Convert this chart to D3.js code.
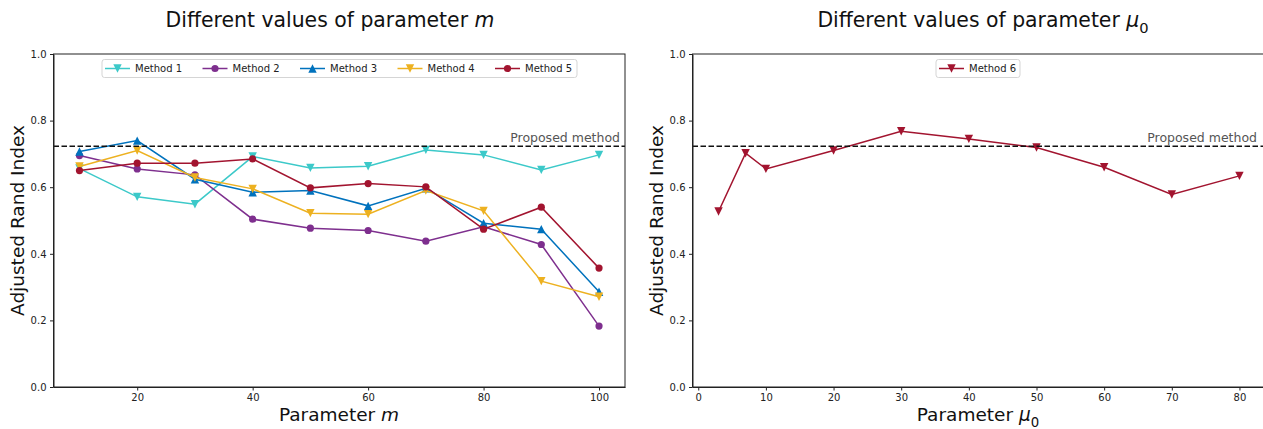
<!DOCTYPE html>
<html lang="en">
<head>
    <meta charset="UTF-8">
    <title>Parameter sensitivity</title>
    <script src="https://d3js.org/d3.v7.min.js"></script>
    <style>
        body {
            margin: 0;
            background: #fff;
            font-family: "DejaVu Sans", sans-serif;
        }
        .tick text {
            font-size: 10px;
            font-family: "DejaVu Sans", sans-serif;
            fill: #222;
        }
        .tick line, .domain {
            stroke: #222;
        }
    </style>
</head>
<body>
    <div id="chart"></div>
    <script>
        // values
        const mValues = [10, 20, 30, 40, 50, 60, 70, 80, 90, 100];
        const method1 = [0.656, 0.571, 0.549, 0.692, 0.658, 0.663, 0.712, 0.697, 0.652, 0.697];
        const method2 = [0.695, 0.655, 0.637, 0.504, 0.477, 0.470, 0.438, 0.481, 0.428, 0.183];
        const method3 = [0.707, 0.740, 0.624, 0.585, 0.590, 0.544, 0.597, 0.492, 0.474, 0.286];
        const method4 = [0.662, 0.710, 0.629, 0.595, 0.522, 0.519, 0.590, 0.529, 0.318, 0.271];
        const method5 = [0.650, 0.672, 0.672, 0.685, 0.598, 0.611, 0.601, 0.474, 0.540, 0.357];

        const mu0Values = [3, 7, 10, 20, 30, 40, 50, 60, 70, 80];
        const method6 = [0.527, 0.702, 0.655, 0.710, 0.768, 0.745, 0.719, 0.660, 0.578, 0.634];

        const proposed = 0.723;
        const yTicks = [0, 0.2, 0.4, 0.6, 0.8, 1.0];
        const mTicks = [20, 40, 60, 80, 100];
        const muTicks = [0, 10, 20, 30, 40, 50, 60, 70, 80];

        const leftSeries = [
            {name: "Method 1", values: method1, color: "#3cc9c9", marker: "down"},
            {name: "Method 2", values: method2, color: "#7e2f8e", marker: "circle"},
            {name: "Method 3", values: method3, color: "#0072bd", marker: "up"},
            {name: "Method 4", values: method4, color: "#edb120", marker: "down"},
            {name: "Method 5", values: method5, color: "#a2142f", marker: "circle"}
        ];
        const rightSeries = [
            {name: "Method 6", values: method6, color: "#a2142f", marker: "down"}
        ];

        const W = 1263, H = 429;
        const plotTop = 54, plotBottom = 387;

        const svg = d3.select("#chart").append("svg")
            .attr("width", W)
            .attr("height", H);

        const y = d3.scaleLinear().domain([0, 1]).range([plotBottom, plotTop]);

        function drawMarker(g, type, color) {
            if (type === "circle") {
                g.append("circle").attr("r", 3.6).attr("fill", color);
            } else {
                const s = 4.2;
                const pts = type === "up"
                    ? [[0, -s], [-s, s], [s, s]]
                    : [[0, s], [-s, -s], [s, -s]];
                g.append("path")
                    .attr("d", "M" + pts.map(p => p.join(",")).join("L") + "Z")
                    .attr("fill", color);
            }
        }

        function panel(opts) {
            const x = d3.scaleLinear().domain(opts.domain).range(opts.range);
            const g = svg.append("g");

            // lines and markers
            const line = d3.line().x((d, i) => x(opts.xs[i])).y(d => y(d));
            opts.series.forEach(s => {
                g.append("path")
                    .datum(s.values)
                    .attr("fill", "none")
                    .attr("stroke", s.color)
                    .attr("stroke-width", 1.5)
                    .attr("d", line);
                s.values.forEach((v, i) => {
                    const m = g.append("g").attr("transform", `translate(${x(opts.xs[i])},${y(v)})`);
                    drawMarker(m, s.marker, s.color);
                });
            });

            // proposed method reference
            g.append("line")
                .attr("x1", opts.range[0]).attr("x2", opts.range[1])
                .attr("y1", y(proposed)).attr("y2", y(proposed))
                .attr("stroke", "#111")
                .attr("stroke-width", 1.5)
                .attr("stroke-dasharray", "5.5,2.5");
            g.append("text")
                .attr("x", opts.labelX)
                .attr("y", y(proposed) - 4)
                .attr("text-anchor", "end")
                .attr("fill", "#555")
                .style("font-size", "12.5px")
                .text("Proposed method");

            // frame
            g.append("rect")
                .attr("x", opts.range[0]).attr("y", plotTop)
                .attr("width", opts.range[1] - opts.range[0])
                .attr("height", plotBottom - plotTop)
                .attr("fill", "none")
                .attr("stroke", "#222")
                .attr("stroke-width", 1);

            g.append("g")
                .attr("transform", `translate(${opts.range[0]},0)`)
                .call(d3.axisLeft(y).tickValues(yTicks).tickFormat(d3.format(".1f"))
                    .tickSize(3.5).tickPadding(3.5).tickSizeOuter(0));
            g.append("g")
                .attr("transform", `translate(0,${plotBottom})`)
                .call(d3.axisBottom(x).tickValues(opts.ticks).tickFormat(d3.format("d"))
                    .tickSize(3.5).tickPadding(3.5).tickSizeOuter(0));

            // title
            const t = svg.append("text")
                .attr("x", opts.titleX)
                .attr("y", 26.5)
                .attr("text-anchor", "middle")
                .attr("fill", "#111")
                .style("font-size", "20.4px")
                .text("Different values of parameter ");
            opts.sym(t, 20.4);

            // x label
            const xl = svg.append("text")
                .attr("x", opts.labelCx)
                .attr("y", 421)
                .attr("text-anchor", "middle")
                .attr("fill", "#111")
                .style("font-size", "18.5px")
                .text("Parameter ");
            opts.sym(xl, 18.5);

            // y label
            svg.append("text")
                .attr("transform", `translate(${opts.range[0] - 30},${(plotTop + plotBottom) / 2}) rotate(-90)`)
                .attr("text-anchor", "middle")
                .attr("fill", "#111")
                .style("font-size", "18.5px")
                .text("Adjusted Rand Index");

            // legend
            const lg = svg.append("g");
            lg.append("rect")
                .attr("x", opts.legX).attr("y", 59.5)
                .attr("width", opts.legW).attr("height", 18)
                .attr("rx", 2.5)
                .attr("fill", "#fff")
                .attr("fill-opacity", 0.85)
                .attr("stroke", "#d5d5d5");
            opts.series.forEach((s, i) => {
                const ex = opts.legX + 3 + i * 97.5;
                lg.append("line")
                    .attr("x1", ex).attr("x2", ex + 25)
                    .attr("y1", 68.5).attr("y2", 68.5)
                    .attr("stroke", s.color).attr("stroke-width", 1.5);
                drawMarker(lg.append("g").attr("transform", `translate(${ex + 12.5},68.5)`), s.marker, s.color);
                lg.append("text")
                    .attr("x", ex + 30).attr("y", 72)
                    .attr("fill", "#222")
                    .style("font-size", "10px")
                    .text(s.name);
            });
        }

        panel({
            xs: mValues, series: leftSeries,
            domain: [5.5, 104.5], range: [53.5, 625],
            ticks: mTicks, labelX: 620, titleX: 330, labelCx: 339,
            legX: 102, legW: 475,
            sym: (t, fs) => t.append("tspan").style("font-style", "italic").text("m")
        });

        panel({
            xs: mu0Values, series: rightSeries,
            domain: [-0.85, 83.85], range: [692.5, 1265.5],
            ticks: muTicks, labelX: 1257, titleX: 983, labelCx: 978,
            legX: 936, legW: 84,
            sym: (t, fs) => {
                t.append("tspan").style("font-style", "italic").text("μ");
                t.append("tspan").attr("dy", fs * 0.3).style("font-size", (fs * 0.72) + "px").text("0");
            }
        });
    </script>
</body>
</html>
